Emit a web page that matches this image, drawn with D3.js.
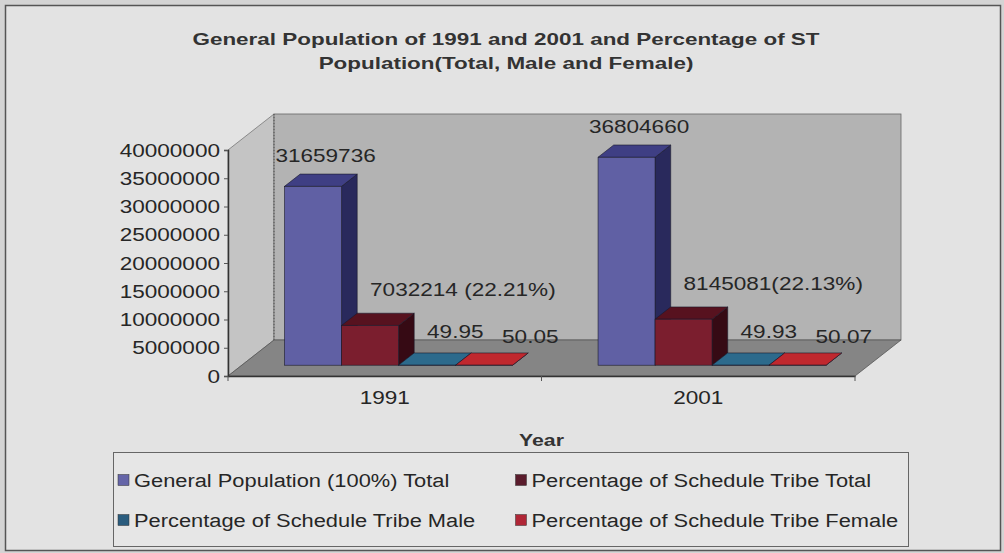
<!DOCTYPE html>
<html>
<head>
<meta charset="utf-8">
<script src="https://cdn.jsdelivr.net/npm/d3@7/dist/d3.min.js"></script>
<style>
  body { margin: 0; background: #d4d4d4; }
  text { font-family: "Liberation Sans", Arial, sans-serif; }
</style>
</head>
<body>
<div id="chart"></div>
<script>
// data
const years = ["1991", "2001"];
const seriesNames = [
  "General Population (100%) Total",
  "Percentage of Schedule Tribe Total",
  "Percentage of Schedule Tribe Male",
  "Percentage of Schedule Tribe Female"
];
const generalTotal = [31659736, 36804660];
const stTotal = [7032214, 8145081];
const stMale = [49.95, 49.93];
const stFemale = [50.05, 50.07];
const labelTexts = [
  ["31659736", "36804660"],
  ["7032214 (22.21%)", "8145081(22.13%)"],
  ["49.95", "49.93"],
  ["50.05", "50.07"]
];
const titleLines = ["General Population of 1991 and 2001 and Percentage of ST", "Population(Total, Male and Female)"];

const series = [generalTotal, stTotal, stMale, stFemale];

const width = 1004, height = 553;

// colours: front, top, side
const faces = [
  ["#6060a4", "#3f3f84", "#29295c"],
  ["#7b1e2e", "#57121f", "#360a14"],
  ["#2e6888", "#2c6a8c", "#1c4660"],
  ["#b8242c", "#c0282e", "#7a1418"]
];
const legendColors = ["#6565a8", "#5a1c2c", "#2a5c7e", "#b02636"];

const svg = d3.select("#chart")
  .append("svg")
  .attr("width", width)
  .attr("height", height);

// outer frame
svg.append("rect")
  .attr("x", 5.5).attr("y", 5.5)
  .attr("width", 995).attr("height", 545)
  .attr("fill", "#e3e3e3")
  .attr("stroke", "#555")
  .attr("stroke-width", 1.5);

// the scan is stretched sideways, so text gets a horizontal scale
function stext(g, x, y, str, opts = {}) {
  return g.append("text")
    .attr("transform", `translate(${x},${y}) scale(${opts.sx || 1.22},1)`)
    .attr("text-anchor", opts.anchor || "start")
    .attr("font-size", opts.size || 18.5)
    .attr("font-weight", opts.weight || "normal")
    .attr("fill", opts.fill || "#262626")
    .text(str);
}

// title
titleLines.forEach((t, i) => {
  stext(svg, 506, 45 + i * 23.5, t, { anchor: "middle", size: 16.5, sx: 1.36, weight: "bold", fill: "#333" });
});

// 3D frame geometry
const x0 = 228, x1 = 855, yBase = 376, yTop = 150;
const DX = 46, DY = -36;
const d0 = 0.3, d1 = 0.64; // depth of the bars

const x = d3.scaleBand().domain(years).range([x0, x1]);
const xs = d3.scaleBand().domain(d3.range(4)).range([0, x.bandwidth()]).paddingOuter(0.75);
const y = d3.scaleLinear().domain([0, 40000000]).range([yBase, yTop]);

const plot = svg.append("g");

// side wall
plot.append("polygon")
  .attr("points", [[x0, yBase], [x0, yTop], [x0 + DX, yTop + DY], [x0 + DX, yBase + DY]].join(" "))
  .attr("fill", "#c4c4c4")
  .attr("stroke", "#777").attr("stroke-width", 0.8);

// back wall
plot.append("rect")
  .attr("x", x0 + DX).attr("y", yTop + DY)
  .attr("width", x1 - x0).attr("height", yBase - yTop)
  .attr("fill", "#b3b3b3")
  .attr("stroke", "#666").attr("stroke-width", 0.8);

// floor
plot.append("polygon")
  .attr("points", [[x0, yBase], [x0 + DX, yBase + DY], [x1 + DX, yBase + DY], [x1, yBase]].join(" "))
  .attr("fill", "#858585")
  .attr("stroke", "#555").attr("stroke-width", 0.8);

// dotted back corner
plot.append("line")
  .attr("x1", x0 + DX).attr("x2", x0 + DX)
  .attr("y1", yTop + DY).attr("y2", yBase + DY)
  .attr("stroke", "#555").attr("stroke-dasharray", "1,2");

// y axis
const yAxis = d3.axisLeft(y).ticks(8).tickSize(4).tickPadding(3).tickFormat(d3.format("d"));
const ya = plot.append("g").attr("transform", `translate(${x0},0)`).call(yAxis);
ya.select(".domain").attr("stroke", "#333").attr("stroke-width", 1.5);
ya.selectAll(".tick line").attr("stroke", "#555");
ya.selectAll(".tick text").remove();
y.ticks(8).forEach(t => {
  stext(ya, -8, y(t) + 6.5, d3.format("d")(t), { anchor: "end" });
});

// x axis
const xAxis = d3.axisBottom(x).tickSize(0).tickFormat("");
const xa = plot.append("g").attr("transform", `translate(0,${yBase})`).call(xAxis);
xa.select(".domain").attr("stroke", "#333").attr("stroke-width", 1.5);
[x0, x0 + x.bandwidth(), x1].forEach(v => {
  xa.append("line").attr("x1", v).attr("x2", v).attr("y1", 0).attr("y2", 5).attr("stroke", "#555");
});
years.forEach(yr => {
  stext(xa, x(yr) + x.bandwidth() / 2, 28, yr, { anchor: "middle" });
});

// bars
const fdx = DX * d0, fdy = DY * d0;
const bdx = DX * (d1 - d0), bdy = DY * (d1 - d0);
const w = xs.bandwidth();
const bars = plot.append("g");
const labels = plot.append("g");
const labelDx = [0, 0, 0, 18];
const labelDy = [-24, -29, -27, -22];

years.forEach((yr, i) => {
  series.forEach((vals, j) => {
    const xl = x(yr) + xs(j) + fdx;
    const base = yBase + fdy;
    const top = y(vals[i]) + fdy;
    const g = bars.append("g").attr("stroke", "#1a1a2a").attr("stroke-width", 0.6);
    g.append("polygon")
      .attr("points", [[xl + w, top], [xl + w + bdx, top + bdy], [xl + w + bdx, base + bdy], [xl + w, base]].join(" "))
      .attr("fill", faces[j][2]);
    g.append("polygon")
      .attr("points", [[xl, top], [xl + bdx, top + bdy], [xl + w + bdx, top + bdy], [xl + w, top]].join(" "))
      .attr("fill", faces[j][1]);
    g.append("rect")
      .attr("x", xl).attr("y", top)
      .attr("width", w).attr("height", Math.max(0, base - top))
      .attr("fill", faces[j][0]);

    // data labels
    const cx = xl + w / 2;
    if (j === 0) {
      stext(labels, cx + bdx * 0.8, top + labelDy[j], labelTexts[j][i], { anchor: "middle" });
    } else {
      stext(labels, cx + labelDx[j], top + labelDy[j], labelTexts[j][i]);
    }
  });
});

// axis title
stext(svg, x0 + (x1 - x0) / 2, 446, "Year", { anchor: "middle", size: 17, sx: 1.25, weight: "bold", fill: "#333" });

// legend
const legend = svg.append("g");
const lgX = 113, lgY = 452, lgW = 795, lgH = 94;
legend.append("rect")
  .attr("x", lgX + 0.5).attr("y", lgY + 0.5)
  .attr("width", lgW).attr("height", lgH)
  .attr("fill", "#e6e6e6")
  .attr("stroke", "#666").attr("stroke-width", 1);

seriesNames.forEach((name, k) => {
  const col = k % 2, row = Math.floor(k / 2);
  const lx = lgX + 5 + col * (lgW / 2), ly = lgY + 28 + row * 40;
  legend.append("rect")
    .attr("x", lx).attr("y", ly - 5.5)
    .attr("width", 11).attr("height", 11)
    .attr("fill", legendColors[k])
    .attr("stroke", "#333").attr("stroke-width", 0.5);
  stext(legend, lx + 16, ly + 6.5, name, { size: 19, sx: 1.15 });
});
</script>
</body>
</html>
